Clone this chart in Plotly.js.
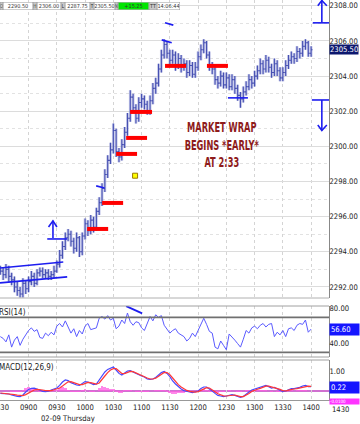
<!DOCTYPE html>
<html><head><meta charset="utf-8">
<script src="https://cdn.plot.ly/plotly-3.0.1.min.js"></script>
<style>html,body{margin:0;padding:0;background:#fff}#chart{width:360px;height:424px}</style>
</head><body><div id="chart"></div>
<script>
const day = '2017-02-09';
const barMinutes = 3;           // bar interval, first bar at 08:30
const barOpen = [
2293.0,2292.9,2292.7,2293.0,2292.6,2292.4,2292.0,2291.8,2291.6,2292.2,
2291.9,2292.3,2292.6,2292.2,2292.8,2292.9,2292.7,2292.8,2292.6,2292.7,
2292.9,2293.3,2293.8,2294.3,2294.8,2295.0,2294.6,2294.2,2294.8,2294.0,
2294.9,2295.6,2295.2,2295.8,2295.4,2296.3,2296.8,2297.6,2298.4,2299.2,
2299.8,2300.9,2299.7,2299.4,2300.1,2300.8,2301.6,2302.8,2302.2,2301.6,
2302.5,2302.7,2302.4,2302.0,2302.6,2303.3,2303.6,2304.4,2305.2,2305.8,
2305.3,2304.9,2305.2,2304.6,2305.0,2304.5,2304.7,2304.2,2304.6,2304.1,
2304.5,2305.1,2305.5,2305.9,2305.2,2304.6,2304.4,2303.8,2303.6,2304.0,
2303.5,2303.9,2303.4,2303.8,2303.3,2302.9,2302.7,2303.1,2303.4,2303.8,
2303.6,2304.0,2304.3,2304.7,2304.4,2304.9,2304.5,2304.2,2304.7,2304.3,
2303.9,2304.2,2304.6,2304.9,2305.1,2305.0,2305.4,2305.3,2305.7,2305.9,
2305.3];
const barHigh = [
2293.2,2293.1,2293.3,2293.2,2292.8,2292.6,2292.3,2292.0,2292.5,2292.4,
2292.6,2292.9,2292.8,2293.0,2293.1,2293.1,2293.0,2293.0,2292.9,2293.2,
2293.5,2294.1,2294.6,2295.1,2295.3,2295.2,2294.8,2295.1,2294.9,2295.1,
2295.9,2295.8,2296.1,2296.0,2296.5,2297.1,2297.9,2298.7,2299.5,2300.2,
2301.3,2301.0,2299.9,2300.4,2301.1,2301.9,2303.2,2303.0,2302.4,2302.8,
2303.0,2302.9,2302.6,2302.9,2303.6,2303.9,2304.7,2305.5,2306.1,2306.0,
2305.5,2305.5,2305.4,2305.3,2305.2,2305.0,2304.9,2304.9,2304.8,2304.8,
2305.4,2305.8,2306.1,2306.0,2305.4,2304.8,2304.6,2304.0,2304.3,2304.2,
2304.2,2304.1,2304.1,2304.0,2303.5,2303.1,2303.4,2303.7,2304.1,2304.0,
2304.3,2304.6,2305.0,2304.9,2305.2,2305.1,2304.7,2305.0,2304.9,2304.5,
2304.5,2304.9,2305.2,2305.4,2305.3,2305.7,2305.6,2306.0,2306.1,2306.0,
2305.7];
const barLow = [
2292.7,2292.4,2292.5,2292.3,2292.1,2291.7,2291.5,2291.4,2291.4,2291.6,
2291.7,2292.1,2292.0,2292.1,2292.6,2292.5,2292.5,2292.4,2292.4,2292.5,
2292.8,2293.1,2293.6,2294.1,2294.6,2294.3,2293.9,2294.0,2293.7,2293.8,
2294.7,2294.9,2295.0,2295.1,2295.2,2296.1,2296.6,2297.4,2298.2,2299.0,
2299.6,2299.4,2299.1,2299.2,2299.9,2300.6,2301.4,2301.9,2301.3,2301.4,
2302.2,2302.1,2301.8,2301.8,2302.4,2303.0,2303.4,2304.2,2305.0,2305.0,
2304.6,2304.7,2304.3,2304.4,2304.2,2304.3,2303.9,2304.0,2303.9,2303.9,
2304.3,2304.9,2305.3,2305.0,2304.3,2304.1,2303.5,2303.3,2303.4,2303.3,
2303.3,2303.2,2303.2,2303.0,2302.6,2302.2,2302.5,2302.9,2303.2,2303.3,
2303.4,2303.8,2304.1,2304.1,2304.2,2304.2,2303.9,2304.0,2304.0,2303.7,
2303.7,2304.0,2304.4,2304.7,2304.7,2304.8,2305.0,2305.1,2305.5,2305.1,
2305.1];
const barClose = [
2292.9,2292.7,2293.0,2292.6,2292.4,2292.0,2291.8,2291.6,2292.2,2291.9,
2292.3,2292.6,2292.2,2292.8,2292.9,2292.7,2292.8,2292.6,2292.7,2292.9,
2293.3,2293.8,2294.3,2294.8,2295.0,2294.6,2294.2,2294.8,2294.0,2294.9,
2295.6,2295.2,2295.8,2295.4,2296.3,2296.8,2297.6,2298.4,2299.2,2299.8,
2300.9,2299.7,2299.4,2300.1,2300.8,2301.6,2302.8,2302.2,2301.6,2302.5,
2302.7,2302.4,2302.0,2302.6,2303.3,2303.6,2304.4,2305.2,2305.8,2305.3,
2304.9,2305.2,2304.6,2305.0,2304.5,2304.7,2304.2,2304.6,2304.1,2304.5,
2305.1,2305.5,2305.9,2305.2,2304.6,2304.4,2303.8,2303.6,2304.0,2303.5,
2303.9,2303.4,2303.8,2303.3,2302.9,2302.7,2303.1,2303.4,2303.8,2303.6,
2304.0,2304.3,2304.7,2304.4,2304.9,2304.5,2304.2,2304.7,2304.3,2303.9,
2304.2,2304.6,2304.9,2305.1,2305.0,2305.4,2305.3,2305.7,2305.9,2305.3,
2305.5];
const rsiValues = [
48,46,42,50,36,44,48,38,45,50,
55,58,54,56,47,46,52,49,53,50,
60,63,59,66,58,52,57,48,55,51,
60,63,56,57,58,69,71,68,72,67,
69,57,60,67,63,75,65,61,65,64,
58,55,62,71,66,73,70,72,61,56,
52,55,57,52,50,48,43,46,52,48,
55,63,69,62,54,52,36,34,43,38,
33,51,48,44,40,36,45,55,52,58,
60,57,61,63,59,62,63,48,53,50,
55,48,57,58,55,61,63,62,67,53,
56.6];
const macdValues = [
-0.12,-0.12,-0.12,-0.15,-0.2,-0.25,-0.27,-0.28,-0.2,-0.05,
0.08,0.13,0.14,0.1,0.03,-0.02,-0.03,-0.01,0.05,0.12,
0.15,0.28,0.45,0.55,0.52,0.42,0.35,0.3,0.28,0.38,
0.47,0.45,0.38,0.32,0.35,0.55,0.8,0.95,1.08,1.15,
1.2,1.05,0.88,0.8,0.9,1.0,1.02,0.95,0.85,0.8,
0.75,0.7,0.6,0.58,0.6,0.68,0.8,0.92,0.98,0.88,
0.72,0.5,0.35,0.2,0.1,0.02,-0.03,-0.05,-0.08,-0.05,
0.0,0.12,0.2,0.2,0.12,0.0,-0.12,-0.22,-0.25,-0.28,
-0.25,-0.2,-0.18,-0.22,-0.28,-0.32,-0.27,-0.18,-0.05,0.05,
0.1,0.12,0.18,0.25,0.28,0.22,0.15,0.18,0.12,0.02,
-0.03,0.0,0.08,0.12,0.12,0.15,0.18,0.25,0.28,0.22,
0.22];
const signalValues = [
-0.1,-0.11,-0.12,-0.13,-0.15,-0.18,-0.21,-0.23,-0.23,-0.18,
-0.1,-0.02,0.05,0.08,0.08,0.05,0.02,0.01,0.02,0.06,
0.1,0.15,0.25,0.38,0.46,0.47,0.42,0.36,0.32,0.32,
0.38,0.43,0.42,0.37,0.34,0.4,0.55,0.75,0.92,1.05,
1.12,1.12,1.0,0.88,0.87,0.93,0.98,0.97,0.9,0.84,
0.78,0.73,0.65,0.6,0.6,0.64,0.73,0.85,0.93,0.92,
0.82,0.65,0.48,0.32,0.2,0.1,0.03,-0.02,-0.05,-0.06,
-0.03,0.05,0.12,0.17,0.15,0.07,-0.04,-0.14,-0.2,-0.24,
-0.25,-0.23,-0.2,-0.2,-0.24,-0.28,-0.28,-0.22,-0.12,-0.02,
0.05,0.09,0.13,0.19,0.24,0.24,0.2,0.18,0.15,0.08,
0.02,0.0,0.04,0.08,0.1,0.12,0.15,0.2,0.24,0.24,
0.23];
const histValues = [
-0.02,-0.01,0,-0.02,-0.05,-0.07,-0.06,-0.05,0.03,0.13,
0.18,0.15,0.09,0.02,-0.05,-0.07,-0.05,-0.02,0.03,0.06,
0.05,0.13,0.2,0.17,0.06,-0.05,-0.07,-0.06,-0.04,0.06,
0.09,0.02,-0.04,-0.05,0.01,0.15,0.25,0.2,0.16,0.1,
0.08,-0.07,-0.12,-0.08,0.03,0.07,0.04,-0.02,-0.05,-0.04,
-0.03,-0.03,-0.05,-0.02,0,0.04,0.07,0.07,0.05,-0.04,
-0.1,-0.15,-0.13,-0.12,-0.1,-0.08,-0.06,-0.03,-0.03,0.01,
0.03,0.07,0.08,0.03,-0.03,-0.07,-0.08,-0.08,-0.05,-0.04,
0,0.03,0.02,-0.02,-0.04,-0.04,0.01,0.04,0.07,0.07,
0.05,0.03,0.05,0.06,0.04,-0.02,-0.05,0,-0.03,-0.06,
-0.05,0,0.04,0.04,0.02,0.03,0.03,0.05,0.04,-0.02,
-0.01];

// red support levels: [start, end, price]
const redLevels = [
  ['10:02:12','10:24:30',2295.30],
  ['10:18:06','10:40:24',2296.78],
  ['10:33:00','10:55:12',2299.57],
  ['10:43:36','11:05:48',2300.48],
  ['10:47:48','11:11:06',2301.96],
  ['11:24:54','11:47:12',2304.58],
  ['12:09:24','12:31:42',2304.58]
];
// hand-drawn blue marks on price panel (polylines of [time, price])
const blueMarks = [
  [['08:29:40',2293.08],['09:36:50',2293.42]],
  [['08:29:40',2292.23],['09:41:00',2292.57]],
  [['09:19:50',2294.73],['09:41:00',2294.73]],
  [['09:25:54',2294.79],['09:25:54',2295.76]],
  [['09:21:12',2295.41],['09:25:54',2295.76],['09:30:06',2295.41]],
  [['10:11:48',2297.75],['10:20:36',2297.63]],
  [['11:21:24',2306.06],['11:32:00',2305.90]],
  [['11:24:54',2307.04],['11:33:42',2306.90]],
  [['12:31:42',2302.76],['12:52:54',2302.76]],
  [['14:01:48',2307.03],['14:19:00',2307.03]],
  [['14:11:24',2307.03],['14:11:24',2308.33]],
  [['14:07:06',2308.00],['14:11:24',2308.30],['14:16:42',2308.00]],
  [['14:00:48',2302.64],['14:19:00',2302.64]],
  [['14:11:24',2302.64],['14:11:24',2300.90]],
  [['14:07:06',2301.22],['14:11:24',2300.90],['14:16:42',2301.22]]
];
const rsiMark = [['10:43:36',82.9],['11:00:36',74.6]];
const yellowMark = {time:'10:53:06', price:2298.33};
const rsiLevels = [70, 30];
const lastPrice = 2305.50, lastRsi = 56.60, lastMacd = 0.22;
const headerCells = [
  ['O','lbl'],['2290.50','val'],['H','lbl'],['2306.00','val'],['L','lbl'],['2287.75','val'],
  ['T','lbl'],['2305.50','val'],['N','lbl'],['+15.25','net'],['TT','lbl'],['14:06:44','val']
];
const noteText = 'MARKET WRAP<br>BEGINS *EARLY*<br>AT 2:33';
const noteAt = {time:'12:25:20', price:2300.1};

const FONT = '"DejaVu Sans Condensed","Liberation Sans Narrow","Liberation Sans",sans-serif';
const T = s => day + ' ' + s;
function pad(n){return (n<10?'0':'')+n;}
const barTimes = barClose.map((_, i) => {
  const tot = 8*60 + 30 + i*barMinutes;
  return day + ' ' + pad(Math.floor(tot/60)) + ':' + pad(tot%60);
});

const blueX = [], blueY = [];
blueMarks.forEach(seg => { seg.forEach(p => {blueX.push(T(p[0])); blueY.push(p[1]);}); blueX.push(null); blueY.push(null); });
const redX = [], redY = [];
redLevels.forEach(r => { redX.push(T(r[0]), T(r[1]), null); redY.push(r[2], r[2], null); });

const traces = [
  {type:'bar', x:barTimes, y:histValues, xaxis:'x', yaxis:'y3', marker:{color:'rgba(255,95,225,0.75)', line:{width:0}}, hoverinfo:'skip'},
  {type:'ohlc', x:barTimes, open:barOpen, high:barHigh, low:barLow, close:barClose, xaxis:'x', yaxis:'y',
   increasing:{line:{color:'rgba(160,165,220,0.6)', width:2.8}}, decreasing:{line:{color:'rgba(160,165,220,0.6)', width:2.8}}, tickwidth:0.5, hoverinfo:'skip'},
  {type:'ohlc', x:barTimes, open:barOpen, high:barHigh, low:barLow, close:barClose, xaxis:'x', yaxis:'y',
   increasing:{line:{color:'#4650b2', width:1.1}}, decreasing:{line:{color:'#4650b2', width:1.1}}, tickwidth:0.5, hoverinfo:'skip'},
  {type:'scatter', mode:'lines', x:redX, y:redY, xaxis:'x', yaxis:'y', line:{color:'#ff0000', width:4}, hoverinfo:'skip'},
  {type:'scatter', mode:'lines', x:blueX, y:blueY, xaxis:'x', yaxis:'y', line:{color:'#1d1df0', width:1.6}, hoverinfo:'skip'},
  {type:'scatter', mode:'markers', x:[T(yellowMark.time)], y:[yellowMark.price], xaxis:'x', yaxis:'y',
   marker:{symbol:'square', size:5, color:'#ffff00', line:{color:'#9a7a00', width:1}}, hoverinfo:'skip'},
  {type:'scatter', mode:'lines', x:barTimes, y:rsiValues, xaxis:'x', yaxis:'y2', line:{color:'#5b5bff', width:1}, hoverinfo:'skip'},
  {type:'scatter', mode:'lines', x:rsiMark.map(p=>T(p[0])), y:rsiMark.map(p=>p[1]), xaxis:'x', yaxis:'y2', line:{color:'#1d1df0', width:1.8}, hoverinfo:'skip'},
  {type:'scatter', mode:'lines', x:barTimes, y:macdValues, xaxis:'x', yaxis:'y3', line:{color:'#4848ff', width:1.2}, hoverinfo:'skip'},
  {type:'scatter', mode:'lines', x:barTimes, y:signalValues, xaxis:'x', yaxis:'y3', line:{color:'#ff3838', width:1.2}, hoverinfo:'skip'}
];

const tickFont = {family:FONT, size:7.6, color:'#222'};
const shapes = [
  {type:'line', xref:'paper', x0:0, x1:1, yref:'paper', y0:0.255, y1:0.255, line:{color:'#b0b0b0', width:1}},
  {type:'line', xref:'paper', x0:0, x1:1, yref:'paper', y0:0.235, y1:0.235, line:{color:'#a0a0a0', width:1}},
  {type:'line', xref:'paper', x0:0, x1:1, yref:'paper', y0:0.1075, y1:0.1075, line:{color:'#a0a0a0', width:1}},
  {type:'line', xref:'paper', x0:0, x1:1, yref:'paper', y0:0.1, y1:0.1, line:{color:'#a0a0a0', width:1}},
  {type:'line', xref:'paper', x0:0, x1:1, yref:'y3', y0:0, y1:0, line:{color:'#c040c0', width:1.5}, layer:'below'}
].concat(rsiLevels.map(v => ({type:'line', xref:'paper', x0:0, x1:1, yref:'y2', y0:v, y1:v, line:{color:'#707070', width:1.8}})));

const annotations = [
  {xref:'x', yref:'y', x:T(noteAt.time), y:noteAt.price, text:noteText, showarrow:false, xanchor:'center', yanchor:'middle',
   font:{family:FONT, size:13.5, color:'#8e1b1b', weight:'bold'}, align:'center'},
  {xref:'paper', yref:'y', x:1, xanchor:'left', y:lastPrice, text:lastPrice.toFixed(2), showarrow:false,
   bgcolor:'#0c176e', borderpad:0, font:{family:FONT, size:7.6, color:'#fff'}, width:28, align:'left'},
  {xref:'paper', yref:'y2', x:1, xanchor:'left', y:lastRsi, text:lastRsi.toFixed(2), showarrow:false,
   bgcolor:'#1515ff', borderpad:1, font:{family:FONT, size:7.6, color:'#fff'}, width:27, align:'left'},
  {xref:'paper', yref:'y3', x:1, xanchor:'left', y:lastMacd, text:lastMacd.toFixed(2), showarrow:false,
   bgcolor:'#1515ff', borderpad:1, font:{family:FONT, size:7.6, color:'#fff'}, width:27, align:'left', yshift:-1},
  {xref:'paper', yref:'y3', x:1, xanchor:'left', y:histValues[histValues.length-1], text:histValues[histValues.length-1].toFixed(4), showarrow:false,
   bgcolor:'#ff33ff', borderpad:0, font:{family:FONT, size:4.5, color:'#fff'}, width:29, height:5, align:'left', yshift:-10},
  {xref:'paper', yref:'paper', x:0, xanchor:'left', yanchor:'middle', y:1-312/400, text:'RSI(14)', showarrow:false, font:{family:FONT, size:8, color:'#222'}, xshift:-3},
  {xref:'paper', yref:'paper', x:0, xanchor:'left', yanchor:'middle', y:1-367/400, text:'MACD(12,26,9)', showarrow:false, font:{family:FONT, size:8, color:'#222'}, xshift:-3},
  {xref:'paper', yref:'paper', x:68/329, xanchor:'center', yanchor:'middle', y:1-418/400, text:'02-09 Thursday', showarrow:false, font:{family:FONT, size:7.6, color:'#222'}},
  {xref:'paper', yref:'paper', x:341/329, xanchor:'center', yanchor:'middle', y:1-410/400, text:'1430', showarrow:false, font:tickFont}
];
// header strip
const cellWidths = [3,30,4,24,4,25,4,21,3,31,8,23];
let cx = 0;
headerCells.forEach((c, i) => {
  const w = cellWidths[i];
  const bg = c[1]==='lbl' ? '#c8c8c8' : (c[1]==='net' ? '#00e600' : '#ffffff');
  annotations.push({xref:'paper', yref:'paper', x:(cx + w/2)/329, y:1-6/400, xanchor:'center', yanchor:'middle',
    text:c[0], showarrow:false, width:Math.max(w-1,1), height:7, borderpad:0, bgcolor:bg, bordercolor:'#9a9a9a', borderwidth:0.5,
    font:{family:FONT, size:5.5, color:'#333'}});
  cx += w;
});

const layout = {
  width:360, height:424, margin:{l:0, r:31, t:0, b:24},
  paper_bgcolor:'#fff', plot_bgcolor:'#fff', showlegend:false, bargap:0,
  xaxis:{type:'date', range:[T('08:29:40'), T('14:19:00')], anchor:'y3', tickformat:'%H%M', dtick:1800000, tick0:T('08:30'),
    rangeslider:{visible:false}, ticklabeloverflow:'allow',
    showgrid:true, gridcolor:'#d4d4d4', griddash:'dot', ticks:'', tickfont:tickFont, showline:true, linecolor:'#999', zeroline:false, fixedrange:true},
  yaxis:{domain:[0.255,1], range:[2291.37, 2308.33], side:'right', anchor:'x', dtick:2, tick0:2292, tickformat:'.2f', tickfont:tickFont,
    showgrid:true, gridcolor:'#dcdcdc', minor:{dtick:1, showgrid:true, griddash:'dot', gridcolor:'#e2e2e2'}, ticklabelstandoff:-2,
    showline:true, linecolor:'#888', zeroline:false, ticks:'', fixedrange:true},
  yaxis2:{domain:[0.1075,0.235], range:[24.7,83], side:'right', anchor:'x', tickvals:[40,80], tickformat:'.2f', tickfont:tickFont, ticklabelstandoff:-2,
    showgrid:false, showline:true, linecolor:'#888', zeroline:false, ticks:'', fixedrange:true},
  yaxis3:{domain:[0,0.1], range:[-0.45,1.55], side:'right', anchor:'x', tickvals:[1], tickformat:'.2f', tickfont:tickFont, ticklabelstandoff:-2,
    showgrid:false, showline:true, linecolor:'#888', zeroline:false, ticks:'', fixedrange:true},
  shapes:shapes, annotations:annotations
};
Plotly.newPlot('chart', traces, layout, {staticPlot:true, displayModeBar:false}).then(gd => {
  // condense the note text horizontally, like the narrow lettering of the original
  const t = gd.querySelector('.annotation[data-index="0"] .annotation-text');
  if (t) {
    const bb = t.getBBox();
    const c = bb.x + bb.width / 2;
    const prev = t.getAttribute('transform') || '';
    t.setAttribute('transform', prev + ' translate(' + c + ',0) scale(0.68,1) translate(' + (-c) + ',0)');
  }
});
</script>
</body></html>
